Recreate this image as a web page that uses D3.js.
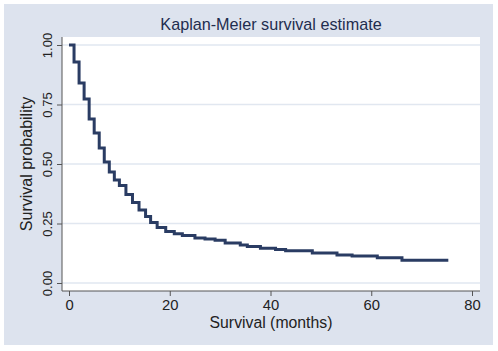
<!DOCTYPE html>
<html>
<head>
<meta charset="utf-8">
<script src="https://cdn.jsdelivr.net/npm/d3@7"></script>
<style>
  body { margin: 0; background: #fff; }
  svg { display: block; font-family: "Liberation Sans", Arial, sans-serif; }
</style>
</head>
<body>
<div id="chart"></div>
<script>
// KM estimate (months, survival)
const times = [0, 1, 2, 3, 4, 5, 6, 7, 8, 9, 10, 11.3, 12.6, 13.9, 15.2, 16.2, 17.5, 19.2, 20.9, 22.5,
  25, 27, 29, 31, 34, 35.4, 38, 41, 43, 48.3, 53.2, 56.2, 61.2, 66.1, 75.3];
const surv = [1.000, 0.929, 0.840, 0.773, 0.689, 0.630, 0.567, 0.508, 0.466, 0.433, 0.410, 0.372, 0.338, 0.307, 0.279, 0.254, 0.233, 0.216, 0.207, 0.200,
  0.189, 0.185, 0.180, 0.168, 0.160, 0.153, 0.146, 0.141, 0.136, 0.126, 0.118, 0.113, 0.106, 0.096, 0.096];
const xTicks = [0, 20, 40, 60, 80];
const yTicks = [0, 0.25, 0.5, 0.75, 1];

const W = 498, H = 351;
const svg = d3.select("#chart").append("svg")
  .attr("width", W)
  .attr("height", H);

// graph region
svg.append("rect")
  .attr("x", 4).attr("y", 4)
  .attr("width", 489).attr("height", 341)
  .attr("fill", "#dde3ee");

// plot region
const plot = {left: 62, top: 37, right: 480, bottom: 291};
svg.append("rect")
  .attr("x", plot.left).attr("y", plot.top)
  .attr("width", plot.right - plot.left).attr("height", plot.bottom - plot.top)
  .attr("fill", "#fff");

const x = d3.scaleLinear().domain([0, 80]).range([69, 472]);
const y = d3.scaleLinear().domain([0, 1]).range([283, 45]);

// gridlines
svg.append("g").selectAll("line")
  .data(yTicks)
  .enter().append("line")
  .attr("x1", plot.left).attr("x2", plot.right)
  .attr("y1", d => y(d)).attr("y2", d => y(d))
  .attr("stroke", "#e1e7f0")
  .attr("stroke-width", 1.5);

// y axis
const yAxis = svg.append("g")
  .attr("transform", `translate(${plot.left},0)`)
  .call(d3.axisLeft(y).tickValues(yTicks).tickFormat(d3.format(".2f")).tickSize(5).tickSizeOuter(0));
yAxis.select(".domain").remove();
yAxis.append("line")
  .attr("x1", 0).attr("x2", 0).attr("y1", plot.top).attr("y2", plot.bottom)
  .attr("stroke", "#555");
yAxis.selectAll(".tick line").attr("stroke", "#555");
yAxis.selectAll(".tick text")
  .attr("font-size", 13)
  .attr("fill", "#222")
  .attr("x", null).attr("dy", null)
  .attr("text-anchor", "middle")
  .attr("transform", "translate(-10,0) rotate(-90)");

// x axis
const xAxis = svg.append("g")
  .attr("transform", `translate(0,${plot.bottom})`)
  .call(d3.axisBottom(x).tickValues(xTicks).tickSize(5).tickSizeOuter(0));
xAxis.select(".domain").remove();
xAxis.append("line")
  .attr("x1", plot.left).attr("x2", plot.right).attr("y1", 0).attr("y2", 0)
  .attr("stroke", "#555");
xAxis.selectAll(".tick line").attr("stroke", "#555");
xAxis.selectAll(".tick text")
  .attr("font-size", 14.8)
  .attr("fill", "#222")
  .attr("y", 19).attr("dy", null);

// KM curve
const km = times.map((t, i) => [t, surv[i]]);
svg.append("path")
  .datum(km)
  .attr("fill", "none")
  .attr("stroke", "#2a3c63")
  .attr("stroke-width", 3)
  .attr("stroke-linejoin", "miter")
  .attr("d", d3.line().x(d => x(d[0])).y(d => y(d[1])).curve(d3.curveStepAfter));

// titles
svg.append("text")
  .attr("x", 271).attr("y", 30)
  .attr("text-anchor", "middle")
  .attr("font-size", 16.2)
  .attr("fill", "#1f2d4f")
  .text("Kaplan-Meier survival estimate");

svg.append("text")
  .attr("x", 271).attr("y", 328)
  .attr("text-anchor", "middle")
  .attr("font-size", 15.8)
  .attr("fill", "#222")
  .text("Survival (months)");

svg.append("text")
  .attr("transform", "translate(32,164) rotate(-90)")
  .attr("text-anchor", "middle")
  .attr("font-size", 16)
  .attr("fill", "#222")
  .text("Survival probability");
</script>
</body>
</html>
